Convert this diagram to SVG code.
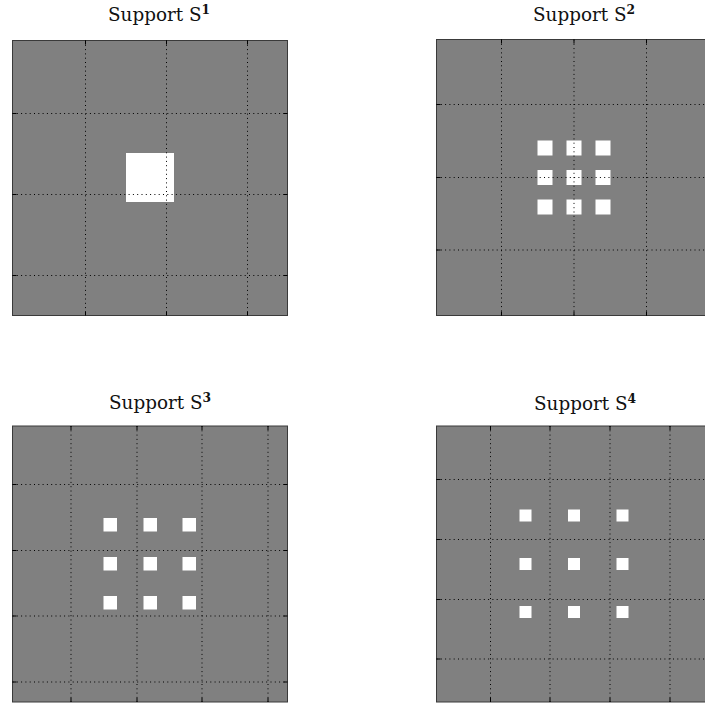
<svg xmlns="http://www.w3.org/2000/svg" width="705" height="704" viewBox="0 0 705 704">
<style>
.bg{fill:#808080;stroke:#3a3a3a;stroke-width:1}
.grid{stroke:#000;stroke-width:1;stroke-dasharray:1 3.3;fill:none}
.tick{stroke:#000;stroke-width:1;fill:none}
.sq{fill:#fff}
.title{font-family:"DejaVu Serif","Liberation Serif",serif;font-size:18px;fill:#111}
.sup{font-size:12px;font-weight:bold}
</style>
<rect width="705" height="704" fill="#fff"/>
<g id="panel1">
<text class="title" x="108" y="21" textLength="102" lengthAdjust="spacingAndGlyphs">Support S<tspan class="sup" dy="-7">1</tspan></text>
<rect class="bg" x="12.5" y="40.5" width="275" height="275"/>
<rect class="sq" x="126" y="153" width="48" height="49"/>
<path class="grid" d="M85.5 40.5V315.5M166.5 40.5V315.5M247.5 40.5V315.5M12.5 113.5H287.5M12.5 194.5H287.5M12.5 275.5H287.5"/>
<path class="tick" d="M85.5 40.5v4M166.5 40.5v4M247.5 40.5v4M85.5 315.5v-4M166.5 315.5v-4M247.5 315.5v-4M12.5 113.5h4M12.5 194.5h4M12.5 275.5h4M287.5 113.5h-4M287.5 194.5h-4M287.5 275.5h-4"/>
</g>
<g id="panel2">
<text class="title" x="533" y="21" textLength="102" lengthAdjust="spacingAndGlyphs">Support S<tspan class="sup" dy="-7">2</tspan></text>
<rect class="bg" x="436.5" y="39.5" width="276" height="276"/>
<g class="sq">
<rect x="537.5" y="140.5" width="15" height="15"/><rect x="566.5" y="140.5" width="15" height="15"/><rect x="595.5" y="140.5" width="15" height="15"/>
<rect x="537.5" y="170" width="15" height="15"/><rect x="566.5" y="170" width="15" height="15"/><rect x="595.5" y="170" width="15" height="15"/>
<rect x="537.5" y="199.5" width="15" height="15"/><rect x="566.5" y="199.5" width="15" height="15"/><rect x="595.5" y="199.5" width="15" height="15"/>
</g>
<path class="grid" d="M501.5 39.5V315.5M574 39.5V315.5M646.5 39.5V315.5M436.5 104.5H712M436.5 177.5H712M436.5 250H712"/>
<path class="tick" d="M501.5 39.5v4M574 39.5v4M646.5 39.5v4M501.5 315.5v-4M574 315.5v-4M646.5 315.5v-4M436.5 104.5h4M436.5 177.5h4M436.5 250h4"/>
</g>
<g id="panel3">
<text class="title" x="109" y="409" textLength="102" lengthAdjust="spacingAndGlyphs">Support S<tspan class="sup" dy="-7">3</tspan></text>
<rect class="bg" x="12.5" y="426" width="275" height="276"/>
<g class="sq">
<rect x="103.5" y="518" width="13.5" height="13.5"/><rect x="143.5" y="518" width="13.5" height="13.5"/><rect x="182.5" y="518" width="13.5" height="13.5"/>
<rect x="103.5" y="557" width="13.5" height="13.5"/><rect x="143.5" y="557" width="13.5" height="13.5"/><rect x="182.5" y="557" width="13.5" height="13.5"/>
<rect x="103.5" y="596" width="13.5" height="13.5"/><rect x="143.5" y="596" width="13.5" height="13.5"/><rect x="182.5" y="596" width="13.5" height="13.5"/>
</g>
<path class="grid" d="M71 426V702M137 426V702M202 426V702M268 426V702M12.5 484.5H287.5M12.5 550.5H287.5M12.5 616H287.5M12.5 682H287.5"/>
<path class="tick" d="M71 426v4M137 426v4M202 426v4M268 426v4M71 702v-4M137 702v-4M202 702v-4M268 702v-4M12.5 484.5h4M12.5 550.5h4M12.5 616h4M12.5 682h4M287.5 484.5h-4M287.5 550.5h-4M287.5 616h-4M287.5 682h-4"/>
</g>
<g id="panel4">
<text class="title" x="534" y="410" textLength="102" lengthAdjust="spacingAndGlyphs">Support S<tspan class="sup" dy="-7">4</tspan></text>
<rect class="bg" x="436.5" y="426" width="276" height="276"/>
<g class="sq">
<rect x="519.5" y="509.5" width="12" height="12"/><rect x="568" y="509.5" width="12" height="12"/><rect x="616.5" y="509.5" width="12" height="12"/>
<rect x="519.5" y="558" width="12" height="12"/><rect x="568" y="558" width="12" height="12"/><rect x="616.5" y="558" width="12" height="12"/>
<rect x="519.5" y="606" width="12" height="12"/><rect x="568" y="606" width="12" height="12"/><rect x="616.5" y="606" width="12" height="12"/>
</g>
<path class="grid" d="M490.5 426V702M550 426V702M610 426V702M670 426V702M436.5 479.5H712M436.5 539.5H712M436.5 599.5H712M436.5 659H712"/>
<path class="tick" d="M490.5 426v4M550 426v4M610 426v4M670 426v4M490.5 702v-4M550 702v-4M610 702v-4M670 702v-4M436.5 479.5h4M436.5 539.5h4M436.5 599.5h4M436.5 659h4"/>
</g>
</svg>
